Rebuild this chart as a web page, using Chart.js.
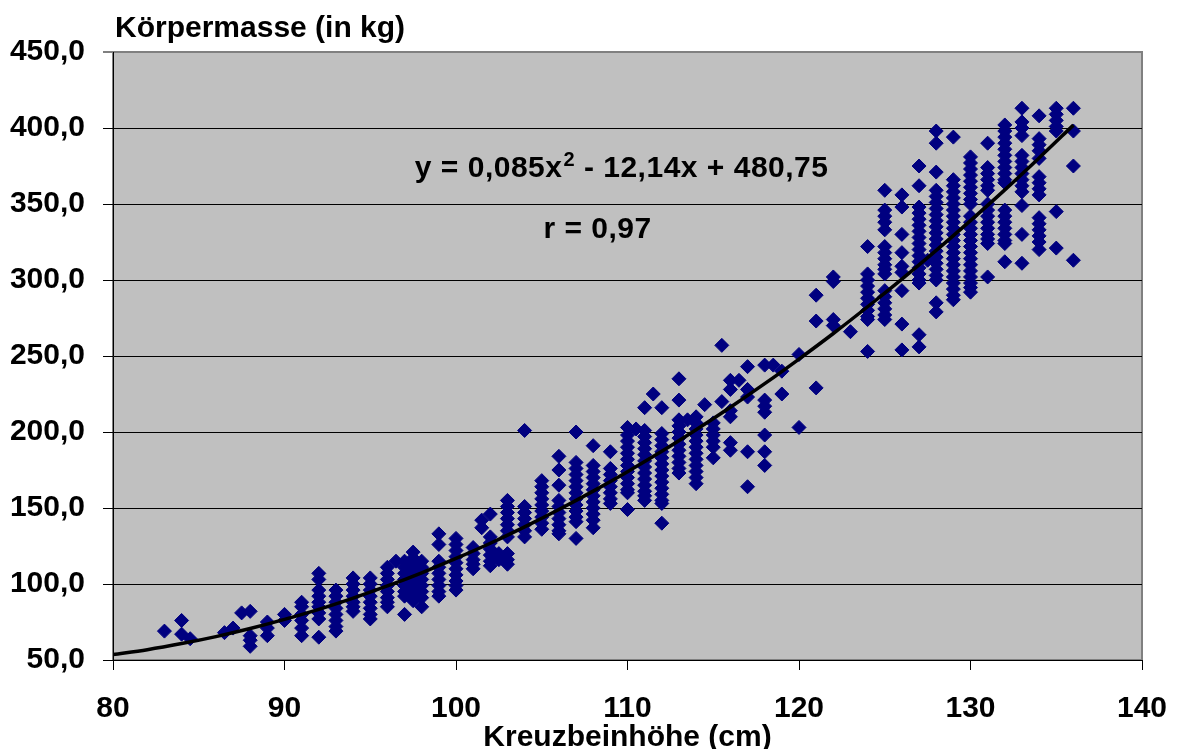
<!DOCTYPE html>
<html lang="de">
<head>
  <meta charset="UTF-8" />
  <title>Körpermasse und Kreuzbeinhöhe</title>
  <script src="https://cdn.jsdelivr.net/npm/chart.js"></script>
  <style>
    html, body { margin: 0; padding: 0; background: #fff; }
    #wrap { width: 1177px; height: 749px; }
  </style>
</head>
<body>
<div id="wrap"><canvas id="massChart"></canvas></div>
<script>
  // Kreuzbeinhöhe (cm) der Messspalten und die dazugehörigen Körpermassen (kg)
  const heights = [
    83, 84, 84.5, 86.5, 87, 87.5, 88, 89, 90, 91, 92, 93, 94, 95, 96, 96.5, 97, 97.5, 98, 99,
    100, 101, 101.5, 102, 102.5, 103, 104, 105, 106, 107, 108, 109, 110, 110.5, 111, 111.5, 112,
    113, 113.5, 114, 114.5, 115, 115.5, 116, 116.5, 117, 118, 118.5, 119, 120, 121, 122, 123,
    124, 125, 126, 127, 127.5, 128, 129, 130, 131, 132, 133, 134, 135, 136
  ];
  const masses = [
    [69], [76, 67], [64], [68], [71], [81], [82, 66, 63, 59], [75, 71, 66], [80, 76],
    [88, 85, 80, 76, 71, 66],
    [107, 103, 96, 92, 88, 85, 81, 77, 65],
    [96, 92, 88, 84, 80, 76, 72, 69],
    [104, 100, 96, 92, 88, 85, 82],
    [104, 100, 96, 92, 88, 84, 80, 77],
    [111, 107, 103, 99, 95, 91, 88, 85],
    [115],
    [115, 111, 107, 103, 99, 95, 92, 80],
    [121, 117, 113, 109, 105, 101, 97, 93, 89],
    [115, 111, 107, 103, 99, 95, 91, 85],
    [133, 126, 115, 111, 107, 103, 99, 95, 92],
    [130, 126, 122, 118, 114, 110, 106, 102, 99, 96],
    [124, 120, 116, 113, 110],
    [142, 137],
    [146, 131, 127, 123, 119, 115, 112],
    [120, 116],
    [155, 151, 147, 143, 139, 135, 131, 120, 116, 113],
    [201, 151, 147, 143, 139, 135, 131],
    [168, 164, 160, 156, 152, 148, 144, 140, 136],
    [184, 175, 165, 155, 151, 147, 143, 139, 135, 133],
    [200, 180, 176, 172, 168, 164, 160, 156, 152, 148, 144, 141, 130],
    [191, 178, 174, 170, 166, 162, 158, 154, 150, 146, 142, 137],
    [187, 176, 172, 168, 164, 160, 156, 153],
    [203, 198, 194, 190, 186, 182, 178, 174, 170, 166, 162, 160, 149],
    [202],
    [216, 201, 197, 193, 189, 185, 181, 177, 173, 169, 165, 161, 158, 155],
    [225],
    [216, 199, 195, 191, 187, 183, 179, 175, 171, 167, 163, 159, 155, 153, 140],
    [235, 221, 208, 204, 200, 196, 192, 188, 184, 180, 176, 173],
    [208],
    [210, 206, 202, 198, 194, 190, 186, 182, 178, 174, 170, 166],
    [218],
    [206, 202, 198, 194, 190, 183],
    [257, 220],
    [234, 228, 214, 210, 193, 188],
    [234],
    [243, 228, 223, 187, 164],
    [244, 221, 217, 213, 198, 187, 178],
    [244],
    [240, 225],
    [251, 203],
    [290, 273, 229],
    [302, 299, 274, 270],
    [266],
    [322, 304, 300, 296, 292, 288, 284, 280, 276, 274, 253],
    [359, 346, 342, 338, 333, 322, 318, 314, 310, 307, 304, 293, 289, 285, 281, 277, 274],
    [356, 348, 330, 318, 309, 305, 293, 271, 254],
    [375, 362, 348, 344, 340, 336, 332, 328, 324, 320, 316, 312, 308, 304, 300, 298, 264, 256],
    [313],
    [398, 390, 371, 359, 355, 351, 347, 343, 339, 335, 331, 327, 323, 319, 315, 311, 307, 303, 300, 285, 279],
    [394, 366, 362, 358, 354, 350, 346, 342, 338, 334, 330, 326, 322, 318, 314, 310, 306, 302, 298, 294, 290, 287],
    [381, 377, 373, 369, 365, 361, 357, 353, 350, 342, 338, 334, 330, 326, 322, 318, 314, 310, 306, 302, 298, 295, 292],
    [390, 374, 370, 366, 362, 359, 350, 346, 342, 338, 334, 330, 327, 324, 302],
    [402, 398, 394, 390, 386, 382, 378, 374, 370, 366, 364, 346, 342, 338, 334, 330, 326, 324, 312],
    [413, 404, 400, 395, 382, 378, 374, 370, 366, 362, 358, 349, 330, 311],
    [408, 393, 389, 385, 380, 368, 364, 360, 356, 341, 337, 333, 329, 325, 320],
    [413, 409, 405, 401, 398, 345, 321],
    [413, 398, 375, 313]
  ];

  const trendX = [80, 82, 84, 86, 88, 90, 92, 94, 96, 98, 100, 102, 104, 106, 108,
                  110, 112, 114, 116, 118, 120, 122, 124, 126, 128, 130, 132, 134, 136];
  const trendY = [53.6, 56.8, 60.8, 65.4, 70.7, 76.7, 83.3, 90.7, 98.7, 107.4, 116.8, 126.8, 137.6, 149.0, 161.1,
                  173.9, 187.3, 201.5, 216.3, 231.8, 248.0, 264.8, 282.4, 300.6, 319.5, 339.1, 359.3, 380.3, 401.9];

  const xTicks = [80, 90, 100, 110, 120, 130, 140];
  const yTicks = [50, 100, 150, 200, 250, 300, 350, 400, 450];
  const yTickLabels = ['50,0', '100,0', '150,0', '200,0', '250,0', '300,0', '350,0', '400,0', '450,0'];

  const xTitle = 'Kreuzbeinhöhe (cm)';
  const yTitle = 'Körpermasse (in kg)';
  const eqParts = ['y = 0,085x', '2', ' - 12,14x + 480,75'];
  const rText = 'r = 0,97';

  const FONT = "'Liberation Sans', Arial, Helvetica, sans-serif";

  const points = [];
  heights.forEach((h, i) => masses[i].forEach(m => points.push({ x: h, y: m })));
  const trend = trendX.map((x, i) => ({ x: x, y: trendY[i] }));

  // grauer Zeichenbereich mit Rahmen
  const plotArea = {
    id: 'plotArea',
    beforeDraw(chart) {
      const { ctx, chartArea: a } = chart;
      ctx.save();
      ctx.fillStyle = '#c0c0c0';
      ctx.fillRect(a.left, a.top, a.right - a.left, a.bottom - a.top);
      ctx.strokeStyle = '#808080';
      ctx.lineWidth = 2;
      ctx.strokeRect(a.left, a.top, a.right - a.left, a.bottom - a.top);
      ctx.restore();
    }
  };

  // Achsentitel und Formeltext
  const labels = {
    id: 'labels',
    afterDraw(chart) {
      const { ctx, chartArea: a, scales } = chart;
      ctx.save();
      ctx.fillStyle = '#000';
      ctx.textBaseline = 'alphabetic';
      ctx.font = `bold 30px ${FONT}`;
      ctx.textAlign = 'left';
      ctx.fillText(yTitle, a.left + 2, 37);
      ctx.textAlign = 'center';
      ctx.fillText(xTitle, (a.left + a.right) / 2, 746);

      // Gleichung an Datenkoordinaten verankert
      ctx.textAlign = 'left';
      ctx.letterSpacing = '0.5px';
      let x = scales.x.getPixelForValue(97.6);
      const yb = scales.y.getPixelForValue(367.8);
      ctx.font = `bold 30px ${FONT}`;
      ctx.fillText(eqParts[0], x, yb);
      x += ctx.measureText(eqParts[0]).width + 1;
      ctx.font = `bold 20px ${FONT}`;
      ctx.fillText(eqParts[1], x, yb - 11);
      x += ctx.measureText(eqParts[1]).width;
      ctx.font = `bold 30px ${FONT}`;
      ctx.fillText(eqParts[2], x, yb);

      ctx.fillText(rText, scales.x.getPixelForValue(105.1), scales.y.getPixelForValue(327.6));
      ctx.restore();
    }
  };

  new Chart(document.getElementById('massChart'), {
    type: 'scatter',
    data: {
      datasets: [
        {
          label: 'Trend',
          data: trend,
          showLine: true,
          borderColor: '#000',
          borderWidth: 3.5,
          pointRadius: 0,
          cubicInterpolationMode: 'monotone',
          order: 0
        },
        {
          label: 'Körpermasse',
          data: points,
          pointStyle: 'rectRot',
          pointRadius: 7,
          backgroundColor: '#000080',
          borderColor: '#000080',
          borderWidth: 1,
          order: 1
        }
      ]
    },
    options: {
      responsive: true,
      maintainAspectRatio: false,
      animation: false,
      layout: { padding: { top: 52, right: 35, left: 0, bottom: 0 } },
      plugins: {
        legend: { display: false },
        tooltip: { enabled: false }
      },
      scales: {
        x: {
          type: 'linear',
          min: 80,
          max: 140,
          afterBuildTicks: s => { s.ticks = xTicks.map(v => ({ value: v })); },
          afterFit: s => { s.height = 89; s.paddingLeft = 0; s.paddingRight = 0; },
          ticks: {
            color: '#000',
            font: { family: FONT, size: 30, weight: 'bold' },
            padding: 21,
            maxRotation: 0
          },
          grid: { drawOnChartArea: false, drawTicks: true, tickLength: 10, color: '#000' },
          border: { color: '#000', width: 1 }
        },
        y: {
          type: 'linear',
          min: 50,
          max: 450,
          afterBuildTicks: s => { s.ticks = yTicks.map(v => ({ value: v })); },
          afterFit: s => { s.width = 113; s.paddingTop = 0; s.paddingBottom = 0; },
          ticks: {
            color: '#000',
            font: { family: FONT, size: 30, weight: 'bold' },
            padding: 18,
            callback: v => yTickLabels[yTicks.indexOf(v)]
          },
          grid: {
            color: c => (c.tick && c.tick.value === 450 ? '#808080' : '#000'),
            lineWidth: c => (c.tick && c.tick.value === 450 ? 2 : 1),
            tickLength: 10
          },
          border: { color: '#000', width: 1 }
        }
      }
    },
    plugins: [plotArea, labels]
  });
</script>
</body>
</html>
